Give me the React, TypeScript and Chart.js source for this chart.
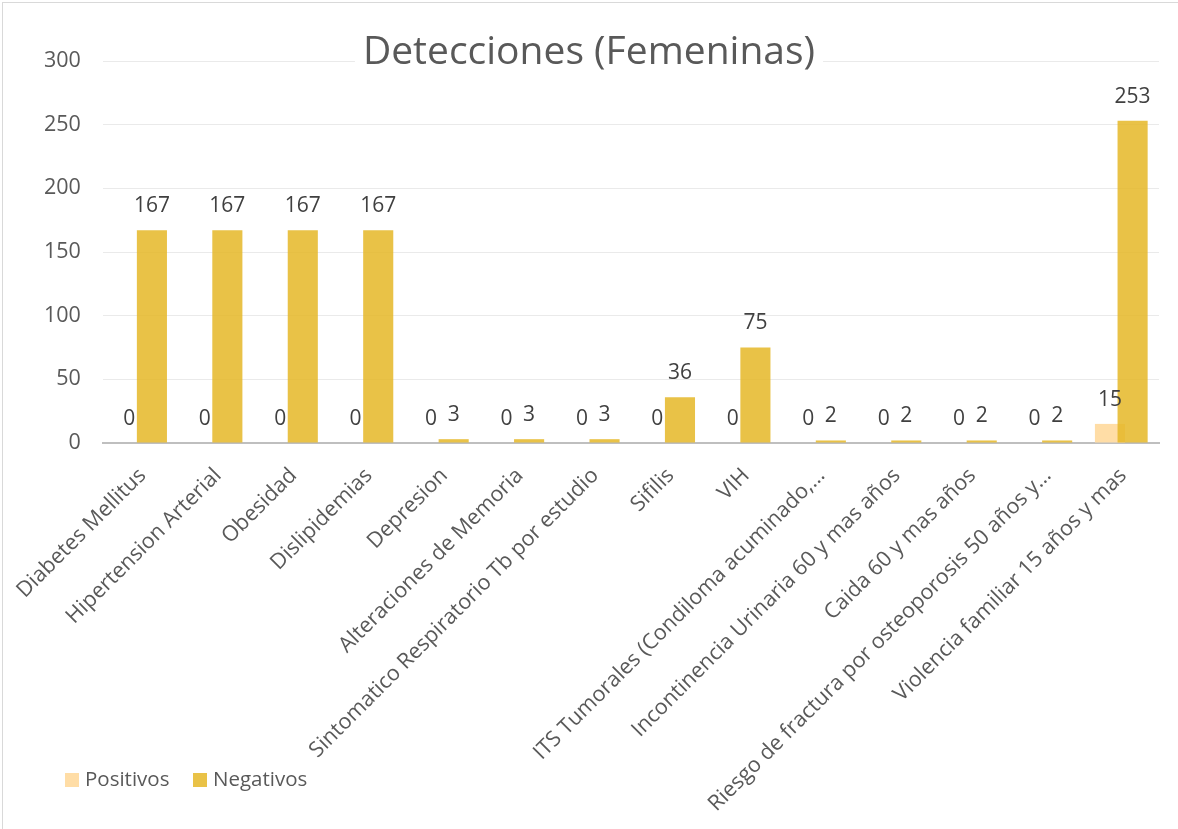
import React, { useEffect, useRef } from "react";
import { Chart, registerables } from "chart.js";

Chart.register(...registerables);

const chartTitle = "Detecciones (Femeninas)";
const categories = [
  "Diabetes Mellitus",
  "Hipertension Arterial",
  "Obesidad",
  "Dislipidemias",
  "Depresion",
  "Alteraciones de Memoria",
  "Sintomatico Respiratorio Tb por estudio",
  "Sifilis",
  "VIH",
  "ITS Tumorales (Condiloma acuminado,…",
  "Incontinencia Urinaria 60 y mas años",
  "Caida 60 y mas años",
  "Riesgo de fractura por osteoporosis 50 años y…",
  "Violencia familiar 15 años y mas",
];
const seriesNames = ["Positivos", "Negativos"];
const positivos = [0, 0, 0, 0, 0, 0, 0, 0, 0, 0, 0, 0, 0, 15];
const negativos = [167, 167, 167, 167, 3, 3, 3, 36, 75, 2, 2, 2, 2, 253];
const yTicks = [0, 50, 100, 150, 200, 250, 300];

const FONT = "'Open Sans', 'Noto Sans', sans-serif";
const TEXT = "#595959";
const COL_POS = "#FFDDA6";
const COL_NEG = "rgba(229,184,41,0.86)";

export default function App() {
  const ref = useRef<HTMLCanvasElement | null>(null);

  useEffect(() => {
    if (!ref.current) return;

    const negOnTop = {
      id: "negOnTop",
      beforeDatasetDraw(chart: any, args: any) {
        if (args.index === 1) return false;
      },
      afterDatasetsDraw(chart: any) {
        const meta = chart.getDatasetMeta(1);
        if (meta && !meta.hidden) meta.controller.draw();
      },
    };

    const overlay = {
      id: "overlay",
      afterDraw(chart: any) {
        const ctx = chart.ctx;
        ctx.save();
        // data labels
        ctx.font = `21px ${FONT}`;
        ctx.fillStyle = "#404040";
        ctx.textAlign = "center";
        ctx.textBaseline = "middle";
        chart.data.datasets.forEach((ds: any, di: number) => {
          const meta = chart.getDatasetMeta(di);
          meta.data.forEach((bar: any, i: number) => {
            ctx.fillText(String(ds.data[i]), bar.x, bar.y - 24);
          });
        });
        // title with white backing
        ctx.font = `39px ${FONT}`;
        const tw = ctx.measureText(chartTitle).width;
        const cx = 589;
        ctx.fillStyle = "#FFFFFF";
        ctx.fillRect(cx - tw / 2 - 8, 28, tw + 16, 48);
        ctx.fillStyle = TEXT;
        ctx.textAlign = "center";
        ctx.textBaseline = "alphabetic";
        ctx.fillText(chartTitle, cx, 64);
        // legend
        ctx.font = `20.5px ${FONT}`;
        ctx.textAlign = "left";
        ctx.textBaseline = "middle";
        const legendX = [65, 193];
        chart.data.datasets.forEach((ds: any, di: number) => {
          const x = legendX[di];
          ctx.fillStyle = ds.backgroundColor;
          ctx.fillRect(x, 773, 14, 14);
          ctx.fillStyle = TEXT;
          ctx.fillText(ds.label, x + 20, 780);
        });
        ctx.restore();
      },
    };

    const chart = new Chart(ref.current, {
      type: "bar",
      data: {
        labels: categories,
        datasets: [
          {
            label: seriesNames[0],
            data: positivos,
            backgroundColor: COL_POS,
            categoryPercentage: 0.6,
            barPercentage: 1.33,
          },
          {
            label: seriesNames[1],
            data: negativos,
            backgroundColor: COL_NEG,
            categoryPercentage: 0.6,
            barPercentage: 1.33,
          },
        ],
      },
      options: {
        responsive: false,
        animation: false,
        layout: { padding: { left: 22, right: 19, top: 61, bottom: 0 } },
        plugins: {
          legend: { display: false },
          title: { display: false },
          tooltip: { enabled: false },
        },
        scales: {
          x: {
            grid: { display: false, drawTicks: false },
            border: { display: true, color: "#BFBFBF", width: 2 },
            afterFit: (axis: any) => {
              axis.paddingLeft = 0;
              axis.paddingRight = 0;
              axis.height = 386;
            },
            ticks: {
              autoSkip: false,
              maxRotation: 45,
              minRotation: 45,
              padding: 20,
              labelOffset: 2,
              color: TEXT,
              font: { family: FONT, size: 21.5 },
            },
          },
          y: {
            min: 0,
            max: 300,
            afterBuildTicks: (axis: any) => {
              axis.ticks = yTicks.map((v) => ({ value: v }));
            },
            grid: { color: "#EAEAEA", lineWidth: 1, drawTicks: false },
            border: { display: false },
            ticks: {
              padding: 22,
              color: TEXT,
              font: { family: FONT, size: 21.5 },
            },
          },
        },
      },
      plugins: [negOnTop, overlay],
    });

    return () => chart.destroy();
  }, []);

  return (
    <div
      style={{
        position: "fixed",
        left: 0,
        top: 0,
        width: 1178,
        height: 829,
        overflow: "hidden",
        background: "#FFFFFF",
      }}
    >
      <canvas
        ref={ref}
        width={1178}
        height={829}
        style={{ position: "absolute", left: 0, top: 0, width: 1178, height: 829 }}
      />
      <div
        style={{
          position: "absolute",
          left: 2,
          top: 2,
          width: 1190,
          height: 840,
          border: "1px solid #D9D9D9",
          pointerEvents: "none",
        }}
      />
    </div>
  );
}
